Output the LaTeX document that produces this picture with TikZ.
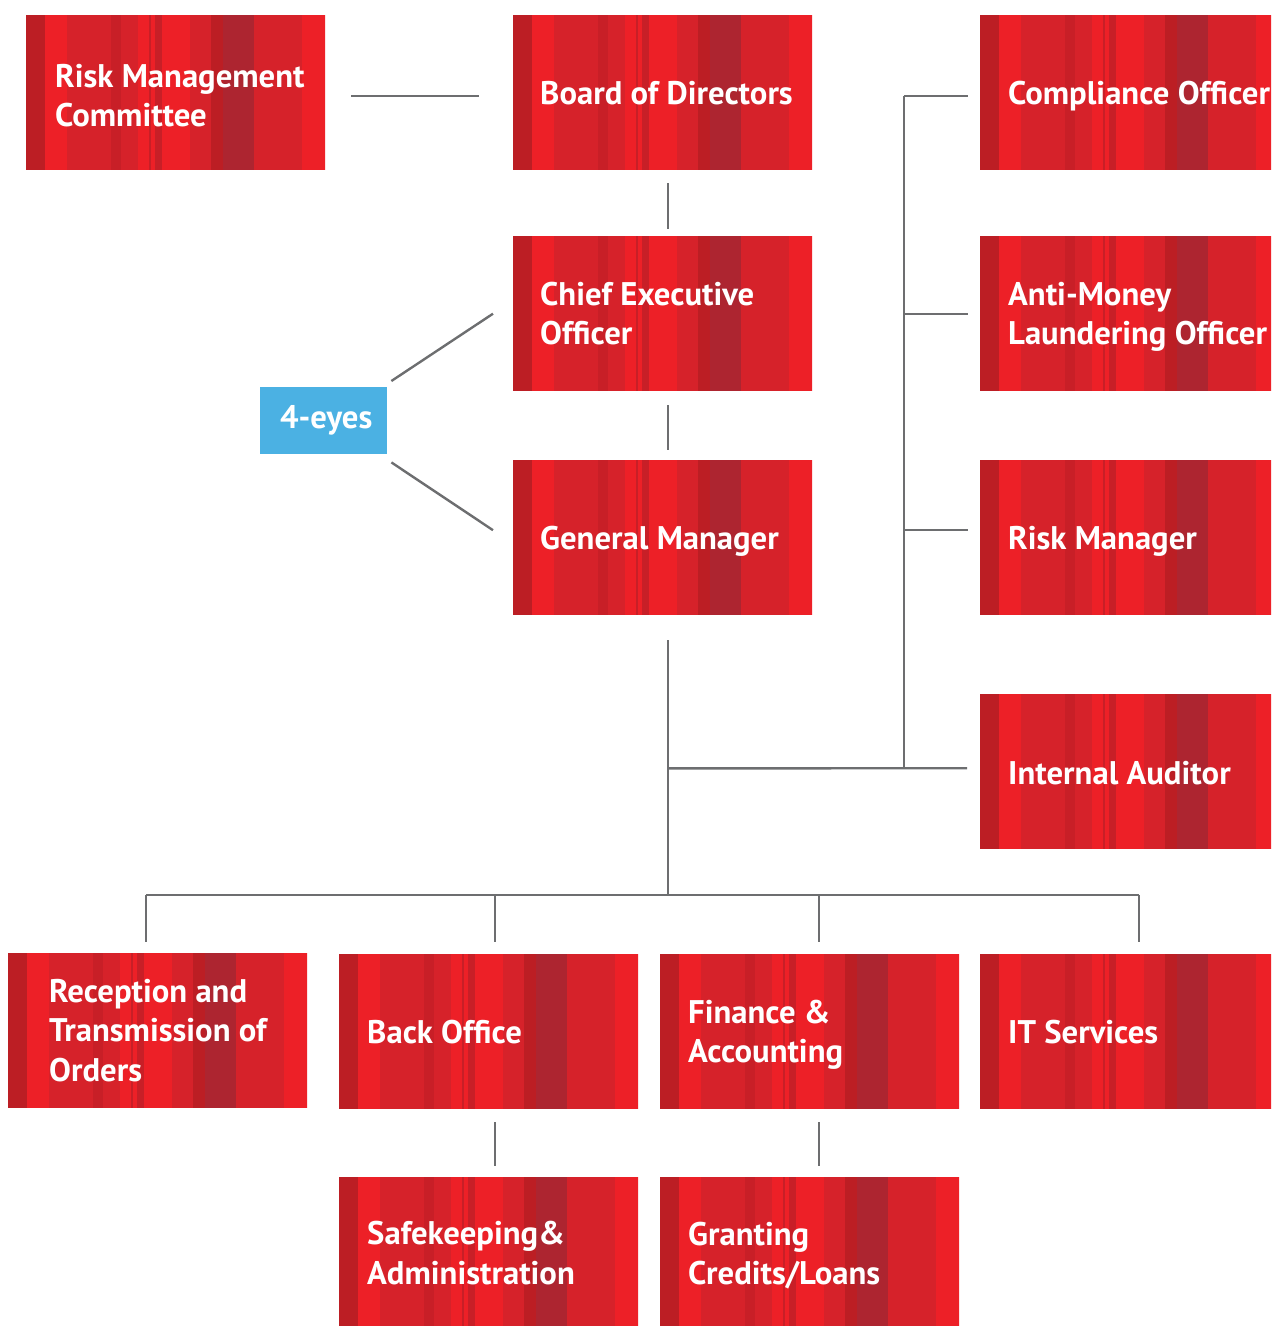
\documentclass[tikz,border=0pt]{standalone}
\usepackage{fontspec}
\setmainfont{PT Sans}
\usetikzlibrary{calc}

\definecolor{rbright}{HTML}{ED2027}
\definecolor{rmed}{HTML}{D6222A}
\definecolor{rdark}{HTML}{BC1E24}
\definecolor{rmid}{HTML}{C81F27}
\definecolor{rmaroon}{HTML}{AD2530}
\definecolor{eyesblue}{HTML}{4BB1E3}
\definecolor{linegray}{HTML}{6D6E70}

% vertical stripe texture of the red boxes
\newcommand\redstripes{%
  \foreach \a/\b/\c in {0/19/rdark,19/41/rbright,41/85/rmed,85/95/rmid,95/112/rmed,
      112/123/rbright,123/125/rmid,125/129/rbright,129/136/rmid,136/164/rbright,
      164/185/rmed,185/197/rdark,197/228/rmaroon,228/276/rmed,276/300/rbright}{%
    \fill[\c] ([xshift=\a pt]path picture bounding box.north west)
      rectangle ([xshift=\b pt]path picture bounding box.south west);
  }}

\tikzset{
  redbox/.style={rectangle, anchor=north west, inner sep=0pt, minimum width=299pt,
    minimum height=155pt, path picture={\redstripes}},
  lbl/.style={anchor=base west, align=left, text=white, inner sep=0pt,
    font=\bfseries\fontsize{32.7}{39.5}\selectfont},
  conn/.style={draw=linegray, line width=2.4pt},
}

\begin{document}
\begin{tikzpicture}[x=1pt,y=-1pt]
\useasboundingbox (0,0) rectangle (1271,1327);

% boxes
\node[redbox] (rmc) at (26,15) {};
\node[redbox] (bod) at (513,15) {};
\node[redbox] (ceo) at (513,236) {};
\node[redbox] (gm)  at (513,460) {};
\node[redbox, minimum width=291pt] (co)  at (980,15) {};
\node[redbox, minimum width=291pt] (aml) at (980,236) {};
\node[redbox, minimum width=291pt] (rm)  at (980,460) {};
\node[redbox, minimum width=291pt] (ia)  at (980,694) {};
\node[redbox] (rto) at (8,953) {};
\node[redbox] (bo)  at (339,954) {};
\node[redbox] (fa)  at (660,954) {};
\node[redbox, minimum width=291pt] (it) at (980,954) {};
\node[redbox, minimum height=149pt] (sa) at (339,1177) {};
\node[redbox, minimum height=149pt] (gc) at (660,1177) {};
\node[rectangle, fill=eyesblue, anchor=north west, minimum width=127pt,
  minimum height=67pt, inner sep=0pt] (eyes) at (260,387) {};
\node[text=white, inner sep=0pt, font=\bfseries\fontsize{32.7}{36}\selectfont]
  (eyest) at ($(eyes.center)+(2.5,0)$) {4-eyes};

% labels (last baseline placed so the text block sits centred in its box)
\node[lbl] (rmct) at ($(rmc.west)+(29,34.25)$) {Risk Management\\Committee};
\node[lbl] (bodt) at ($(bod.west)+(27,11.5)$) {Board of Directors};
\node[lbl] (ceot) at ($(ceo.west)+(27,31.25)$) {Chief Executive\\Officer};
\node[lbl] (gmt)  at ($(gm.west)+(27,11.5)$) {General Manager};
\node[lbl] (cot)  at ($(co.west)+(28,11.5)$) {Compliance Officer};
\node[lbl] (amlt) at ($(aml.west)+(28,31.25)$) {Anti-Money\\Laundering Officer};
\node[lbl] (rmt)  at ($(rm.west)+(28,11.5)$) {Risk Manager};
\node[lbl] (iat)  at ($(ia.west)+(28,12.5)$) {Internal Auditor};
\node[lbl] (rtot) at ($(rto.west)+(41,50.5)$) {Reception and\\Transmission of\\Orders};
\node[lbl] (bot)  at ($(bo.west)+(28,11.5)$) {Back Office};
\node[lbl] (fat)  at ($(fa.west)+(28,31.25)$) {Finance \&\\Accounting};
\node[lbl] (itt)  at ($(it.west)+(28,11.5)$) {IT Services};
\node[lbl] (sat)  at ($(sa.west)+(28,32.75)$) {Safekeeping\&\\Administration};
\node[lbl] (gct)  at ($(gc.west)+(28,33)$) {Granting\\Credits/Loans};

% connectors
\draw[conn] ($(rmc.east)+(26,3.5)$) -- ($(bod.west)+(-34,3.5)$);
\draw[conn] ($(bod.south)+(5,13)$) -- ($(ceo.north)+(5,-7)$);
\draw[conn] ($(ceo.south)+(5,14)$) -- ($(gm.north)+(5,-10)$);
\draw[conn] ($(eyes.north east)+(4,-6)$) -- ($(ceo.west)+(-20,0)$);
\draw[conn] ($(eyes.south east)+(4,8)$) -- ($(gm.west)+(-20,-7.5)$);

\coordinate (junc) at ($(gm.south)+(5,153)$);
\coordinate (hub) at ($(gm.south)+(5,280)$);
\coordinate (spine) at ($(co.west)+(-76,3.5)$);
\draw[conn] ($(gm.south)+(5,25)$) -- (hub);
\draw[conn] (junc) -- ($(ia.west)+(-13,-3.5)$);
\draw[conn] (spine) -- (spine |- junc);
\draw[conn] (spine) -- ($(co.west)+(-12,3.5)$);
\draw[conn] ($(aml.west)+(-76,0)$) -- ($(aml.west)+(-12,0)$);
\draw[conn] ($(rm.west)+(-76,-7.5)$) -- ($(rm.west)+(-12,-7.5)$);

\coordinate (barL) at ($(rto.north)+(-11.5,-58)$);
\coordinate (barR) at ($(it.north)+(13.5,-59)$);
\draw[conn] (barL) -- (barR);
\draw[conn] (barL) -- ($(rto.north)+(-11.5,-11)$);
\draw[conn] ($(bo.north)+(6,-59)$) -- ($(bo.north)+(6,-12)$);
\draw[conn] ($(fa.north)+(9.5,-59)$) -- ($(fa.north)+(9.5,-12)$);
\draw[conn] (barR) -- ($(it.north)+(13.5,-12)$);
\draw[conn] ($(bo.south)+(6,13)$) -- ($(sa.north)+(6,-11)$);
\draw[conn] ($(fa.south)+(9.5,13)$) -- ($(gc.north)+(9.5,-11)$);
\end{tikzpicture}
\end{document}
